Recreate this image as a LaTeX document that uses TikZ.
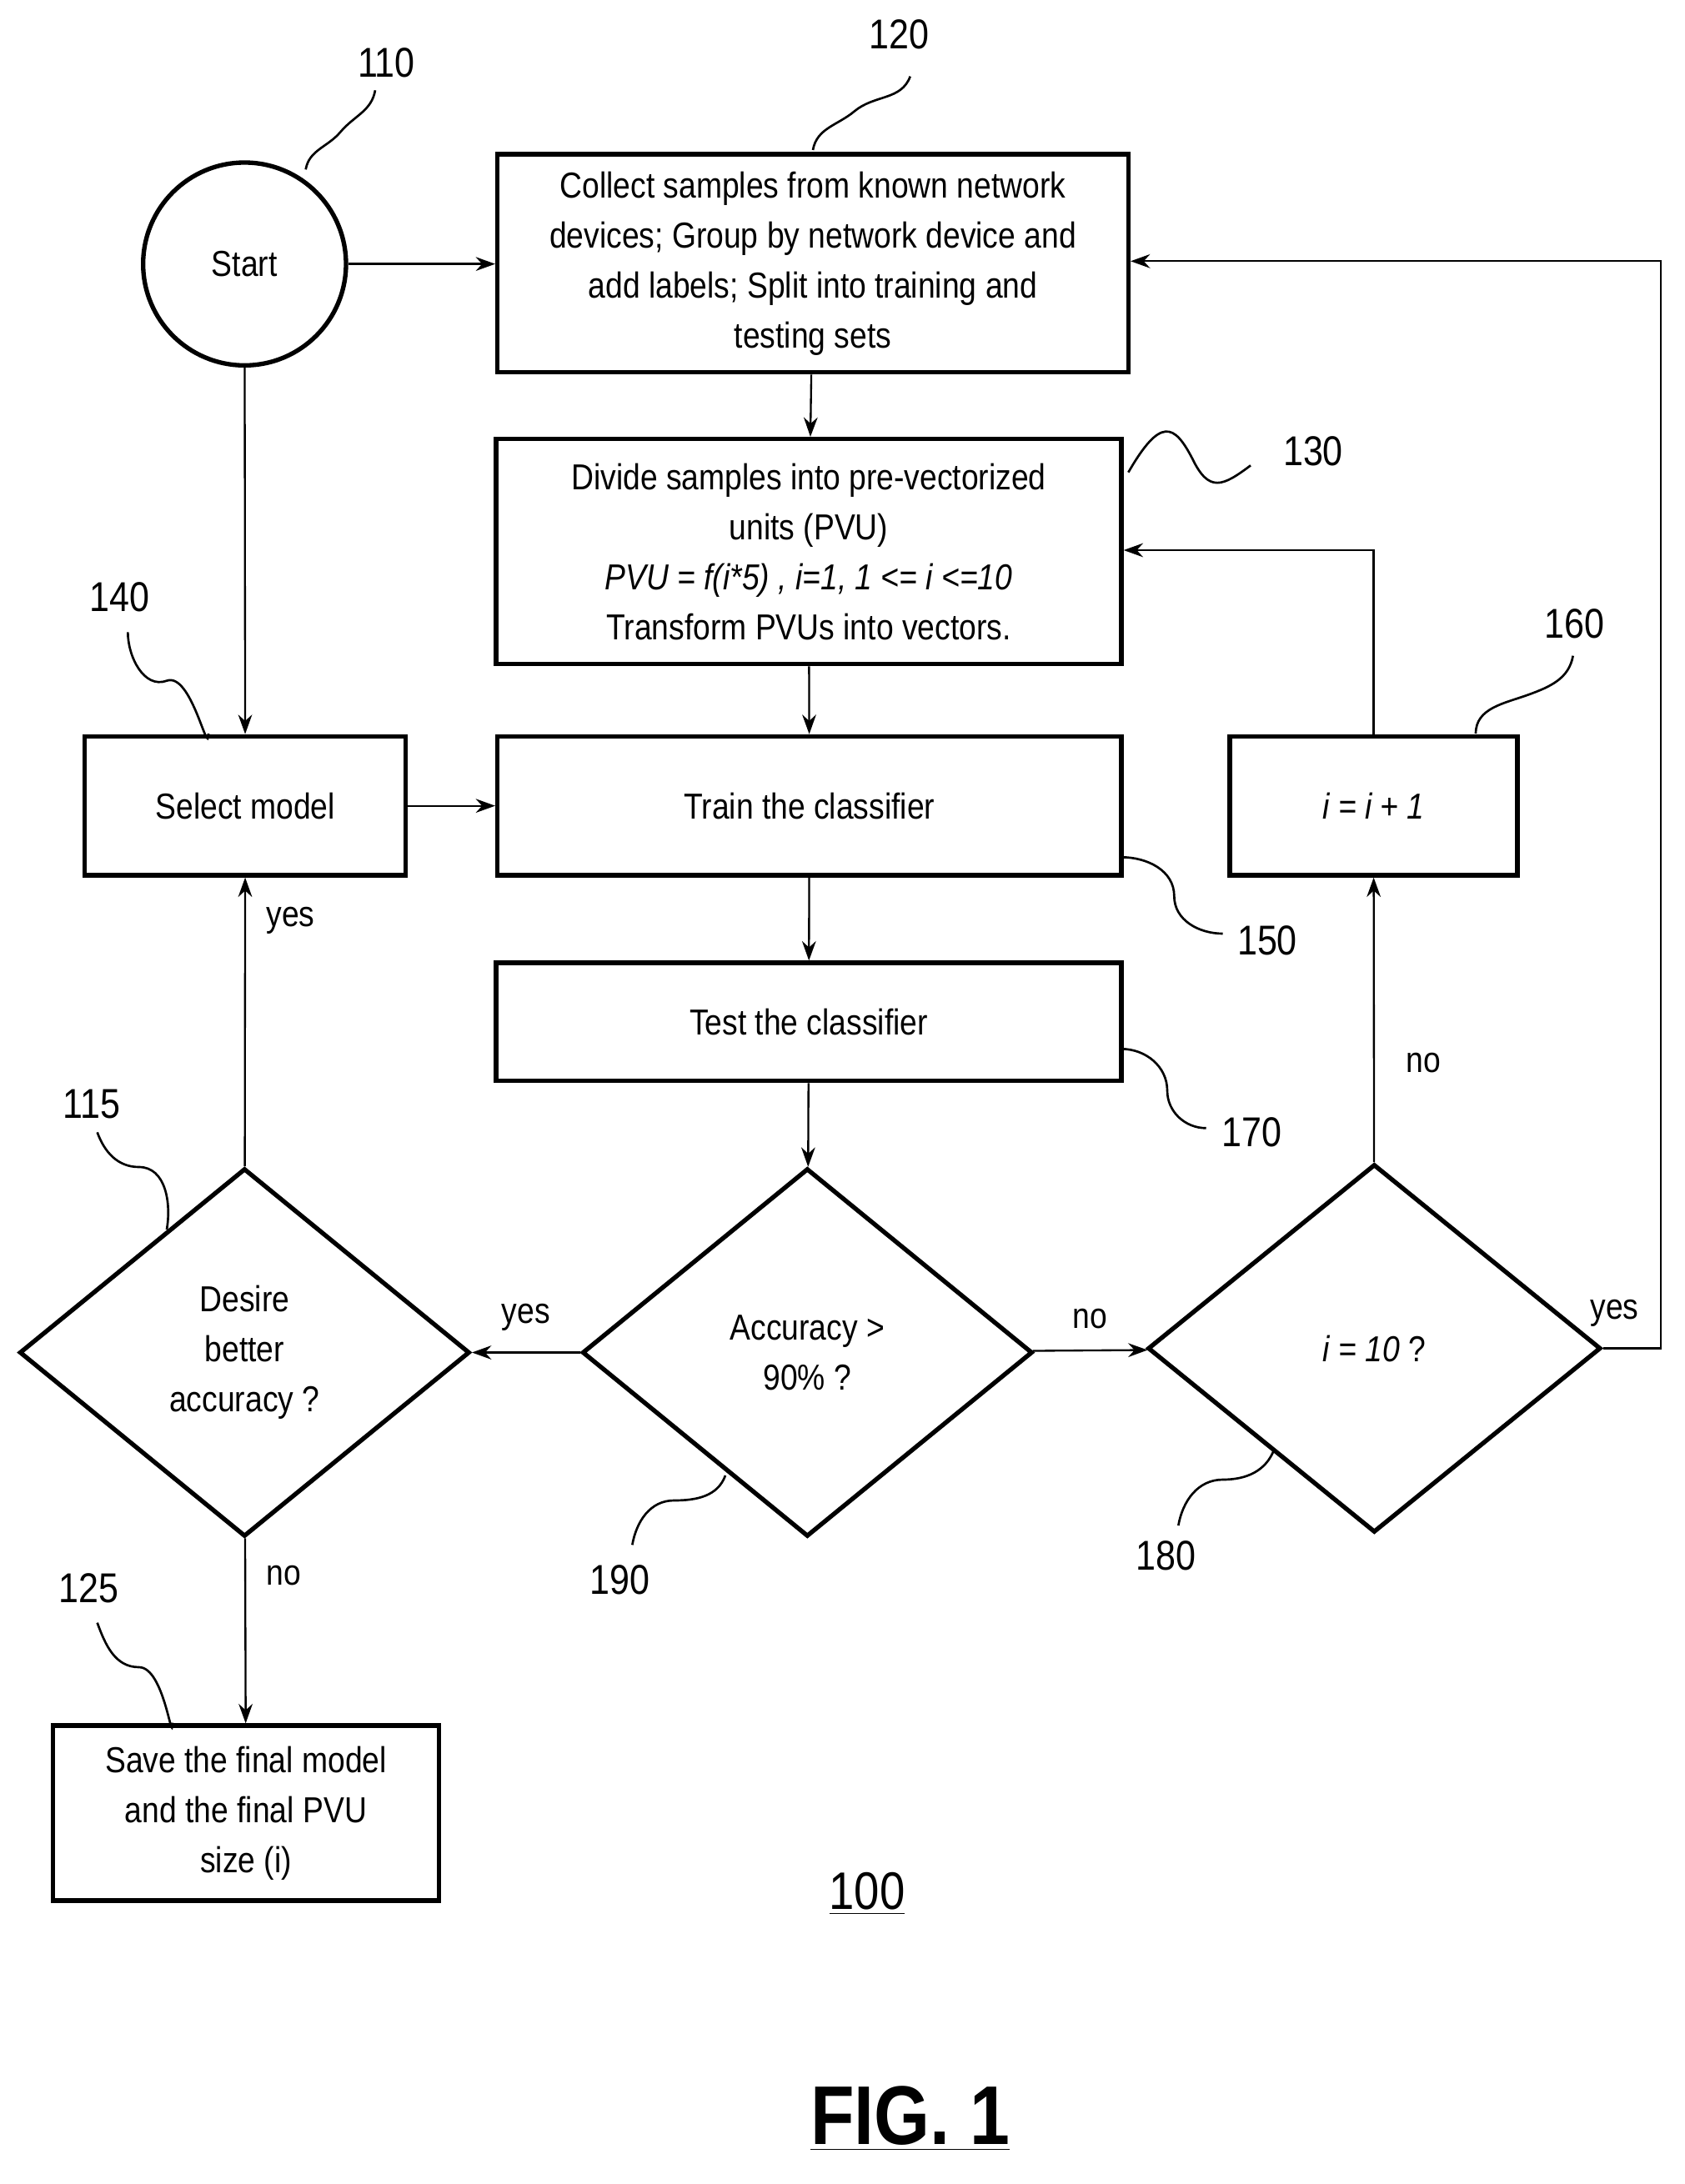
\documentclass[tikz,border=0pt]{standalone}
\usepackage{fontspec}
\setmainfont{Liberation Sans}[FakeStretch=0.86]
\usetikzlibrary{shapes.geometric,arrows.meta}
\begin{document}
\begin{tikzpicture}[x=0.5pt,y=-0.5pt,
  box/.style={draw,line width=1.6pt,align=center,font=\fontsize{13}{18}\selectfont,inner sep=0pt},
  dia/.style={draw,diamond,line width=1.6pt,align=center,font=\fontsize{13}{18}\selectfont,inner sep=0pt},
  arr/.style={-{Stealth[length=7pt,width=5pt]},line width=0.7pt},
  lead/.style={line width=0.8pt},
  num/.style={font=\fontsize{15}{18}\selectfont},
  lab/.style={font=\fontsize{13}{16}\selectfont}]
\useasboundingbox (0,0) rectangle (1212,1572);
\node[box,circle,minimum size=73pt] (start) at (176,190) {Start};
\node[box,minimum width=227pt,minimum height=78.5pt] (b120) at (585,189.5) {Collect samples from known network\\devices; Group by network device and\\add labels; Split into training and\\testing sets};
\node[box,minimum width=225pt,minimum height=81pt] (b130) at (582,397) {Divide samples into pre-vectorized\\units (PVU)\\\textit{PVU = f(i*5) , i=1, 1 <= i <=10}\\Transform PVUs into vectors.};
\node[box,minimum width=115.5pt,minimum height=50pt] (sel) at (176.5,580) {Select model};
\node[box,minimum width=224.5pt,minimum height=50pt] (train) at (582.5,580) {Train the classifier};
\node[box,minimum width=103.5pt,minimum height=50pt] (inc) at (988.5,580) {\textit{i = i + 1}};
\node[box,minimum width=225pt,minimum height=42.5pt] (test) at (582,735.5) {Test the classifier};
\node[dia,minimum width=162pt,minimum height=132.5pt] (d190) at (581,973.5) {Accuracy >\\90\% ?};
\node[dia,minimum width=162pt,minimum height=132.5pt] (d115) at (176,973.5) {Desire\\better\\accuracy ?};
\node[dia,minimum width=163pt,minimum height=132.5pt] (d180) at (989,970.5) {\textit{i = 10} ?};
\node[box,minimum width=139pt,minimum height=63pt] (save) at (177,1305) {Save the final model\\and the final PVU\\size (i)};
\draw[arr] (start) -- (b120.west|-start);
\draw[arr] (start) -- (sel);
\draw[arr] (b120) -- (b130);
\draw[arr] (b130) -- (train);
\draw[arr] (sel) -- (train);
\draw[arr] (train) -- (test);
\draw[arr] (test) -- (d190);
\draw[arr] (d190) -- node[lab,above,pos=0.5,yshift=4pt]{yes} (d115);
\draw[arr] (d190) -- node[lab,above,yshift=4pt]{no} (d180);
\draw[arr] (d180) -- node[lab,right,pos=0.35,xshift=8pt]{no} (inc);
\draw[arr] (inc.north) |- (b130.east|-0,396);
\coordinate (c1) at (1195,970.5);
\coordinate (c2) at (1195,188);
\draw[arr] (d180.east) -- node[lab,above,pos=0.2,yshift=4pt]{yes} (c1) -- (c2) -- (b120.east|-c2);
\draw[arr] (d115) -- node[lab,right,pos=0.85,xshift=4pt]{yes} (sel);
\draw[arr] (d115) -- node[lab,right,pos=0.2,xshift=4pt]{no} (save);
% reference numerals
\node[num] (n110) at (278,45) {110};
\draw[lead] (220,122) to[out=80,in=230] (245,95) to[out=50,in=260] (270,65);
\node[num] (n120) at (647,25) {120};
\draw[lead] (585,108) to[out=80,in=220] (615,80) to[out=40,in=250] (655,55);
\node[num] (n130) at (945,325) {130};
\draw[lead] (812,340) .. controls (835,300) and (845,305) .. (858,330) .. controls (870,355) and (880,350) .. (900,335);
\node[num] (n140) at (86,430) {140};
\draw[lead] (150,528) to[out=270,in=20] (120,490) to[out=200,in=270] (92,455);
\node[num] (n160) at (1133,449) {160};
\draw[lead] (1062,528) to[out=90,in=200] (1100,500) to[out=20,in=260] (1132,472);
\node[num] (n150) at (912,677) {150};
\draw[lead] (807,617) to[out=0,in=90] (845,645) to[out=270,in=180] (880,672);
\node[num] (n170) at (901,815) {170};
\draw[lead] (807,755) to[out=0,in=90] (840,785) to[out=270,in=180] (868,812);
\node[num] (n115) at (66,795) {115};
\draw[lead] (120,885) to[out=80,in=0] (100,840) to[out=180,in=290] (70,815);
\node[num] (n190) at (446,1137) {190};
\draw[lead] (522,1062) to[out=250,in=0] (485,1080) to[out=180,in=80] (455,1112);
\node[num] (n180) at (839,1120) {180};
\draw[lead] (917,1043) to[out=250,in=0] (880,1065) to[out=180,in=80] (848,1098);
\node[num] (n125) at (64,1143) {125};
\draw[lead] (124,1240) to[out=270,in=0] (100,1200) to[out=180,in=290] (70,1168);
\node[font=\fontsize{19}{22}\selectfont] (n100) at (624,1363) {\underline{100}};
\node[font=\bfseries\fontsize{30}{34}\selectfont] (fig) at (655,1525) {\underline{FIG. 1}};
\end{tikzpicture}
\end{document}
